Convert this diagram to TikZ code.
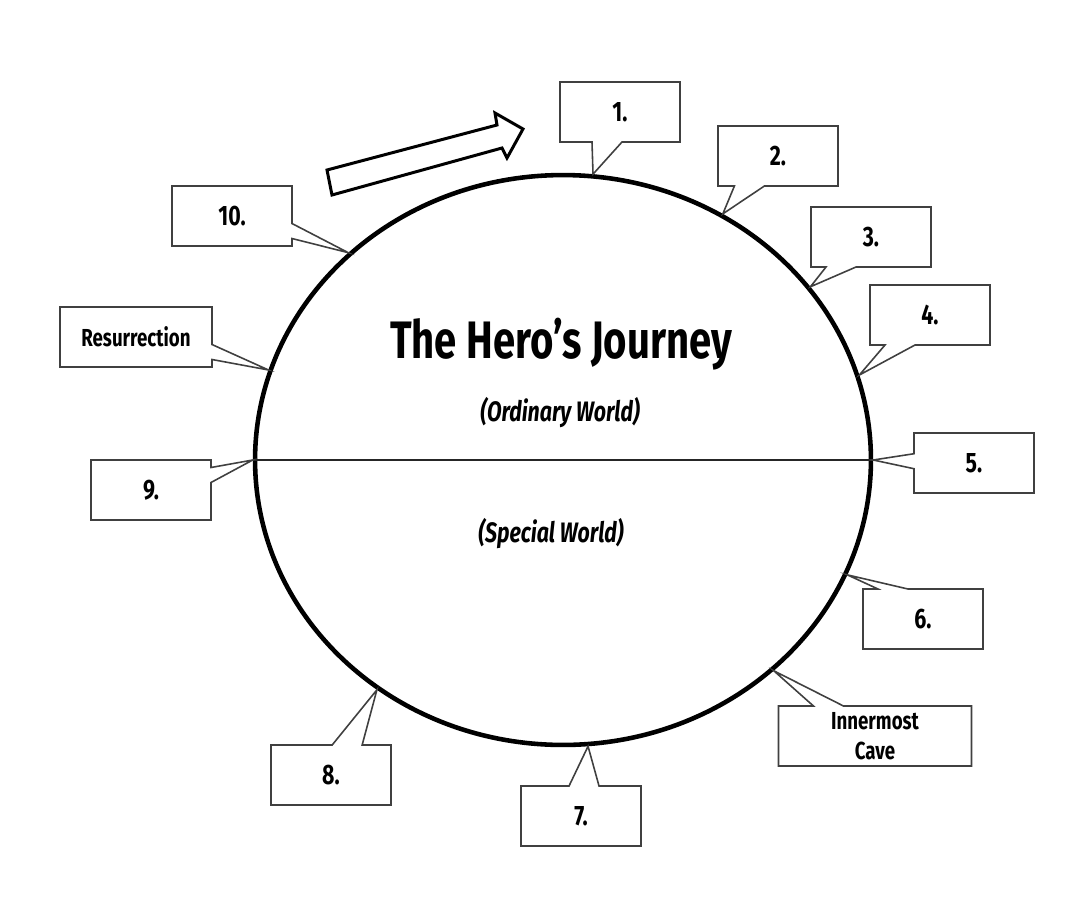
\documentclass[tikz,border=0pt]{standalone}
\usepackage{fontspec}
\setmainfont{Fira Sans}[FakeStretch=0.76]
\usetikzlibrary{shapes.geometric,shapes.callouts}

\begin{document}
\begin{tikzpicture}[x=0.02cm, y=-0.02cm,
      stage/.style={rectangle callout, draw=black!75, line width=0.9pt, fill=white,
                    minimum width=2.4cm, minimum height=1.2cm, align=center,
                    font=\bfseries\fontsize{16}{18}\selectfont, callout pointer width=0.6cm},
      sidestage/.style={stage, callout pointer width=0.3cm},
      realm/.style={font=\bfseries\itshape\fontsize{16}{19}\selectfont}]
    \useasboundingbox (0,0) rectangle (1086,907);
    \node[draw, ellipse, line width=2.6pt, inner sep=0pt, minimum width=12.32cm,
          minimum height=11.4cm] (world) at (563,460) {};
    \draw[line width=1.5pt, black!85] (world.west) -- (world.east);
    \node[anchor=base, font=\bfseries\fontsize{30}{36}\selectfont] (title) at (561,358) {The Hero’s Journey};
    \node[realm, anchor=base] (ordinary) at (560,421) {(Ordinary World)};
    \node[realm, anchor=base] (special) at (551,542) {(Special World)};
    % arrow showing the direction of travel
    \draw[line width=1.7pt, line join=miter, fill=white] (327,170) -- (497,125) -- (495,113)
      -- (523,129) -- (507,158) -- (502,148) -- (332,195) -- cycle;
    % stages round the circle
    \node[stage, callout absolute pointer={(world.84)}] (s1) at (620,112) {1.};
    \node[stage, callout absolute pointer={(world.57)}] (s2) at (778,156) {2.};
    \node[stage, callout absolute pointer={(world.35.5)}] (s3) at (871,237) {3.};
    \node[stage, callout absolute pointer={(world.16.3)}] (s4) at (930,315) {4.};
    \node[sidestage, callout absolute pointer={(world.0)}] (s5) at (974,463) {5.};
    \node[stage, callout absolute pointer={(world.-22)}] (s6) at (923,619) {6.};
    \node[stage, minimum width=3.86cm, font=\bfseries\fontsize{14}{17}\selectfont,
          callout absolute pointer={(world.-45.5)}] (cave) at (875,736) {Innermost\\Cave};
    \node[stage, callout absolute pointer={(world.-85)}] (s7) at (581,816) {7.};
    \node[stage, callout absolute pointer={(world.231.4)}] (s8) at (331,775) {8.};
    \node[sidestage, callout absolute pointer={(world.180)}] (s9) at (151,490) {9.};
    \node[sidestage, minimum width=3.04cm, font=\bfseries\fontsize{14}{17}\selectfont,
          callout absolute pointer={(world.163.5)}] (res) at (136,337) {Resurrection};
    \node[sidestage, callout absolute pointer={(world.136.2)}] (s10) at (232,216) {10.};
\end{tikzpicture}
\end{document}
